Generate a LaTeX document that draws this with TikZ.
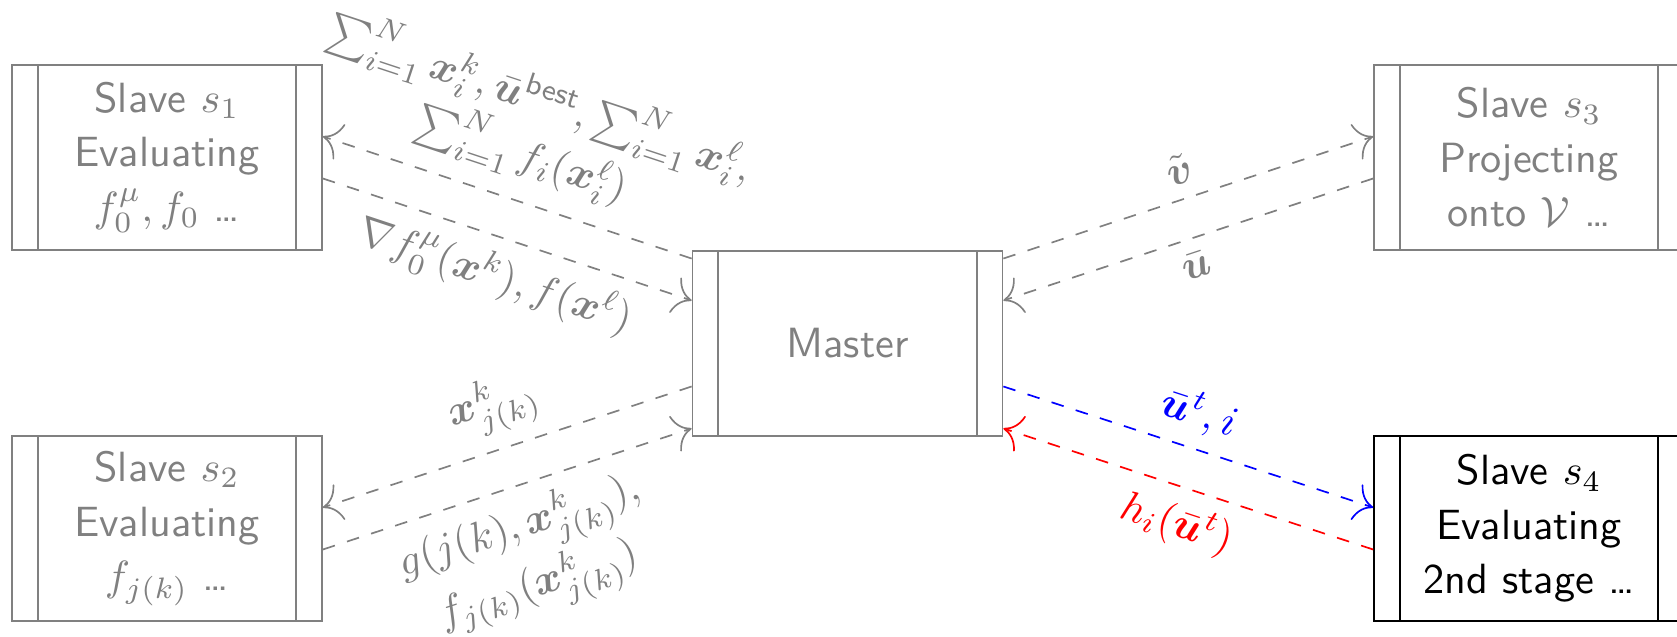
\documentclass[tikz,border=0pt]{standalone}
\usepackage{amsmath}
\usepackage{bm}
\usetikzlibrary{arrows.meta}
\tikzset{
  box/.style={draw=#1, text=#1, rectangle, minimum width=73.35pt, minimum height=43.77pt,
    inner sep=0pt, align=center, font={\sffamily\fontsize{10}{12.9}\selectfont},
    path picture={
      \draw[#1] ([xshift=6.08pt]path picture bounding box.north west) -- ([xshift=6.08pt]path picture bounding box.south west);
      \draw[#1] ([xshift=-6.08pt]path picture bounding box.north east) -- ([xshift=-6.08pt]path picture bounding box.south east);
    }},
  link/.style={draw=#1, dashed, -{To[scale=1.7]}},
  lab/.style={midway, sloped, align=center, text=#1, font=\fontsize{10}{12}\selectfont},
}
\begin{document}
\begin{tikzpicture}[x=0.2366pt, y=-0.2366pt]
\useasboundingbox (0,0) rectangle (1677,637);
\clip (0,0) rectangle (1677,637);

\node[box=gray] (s1) at (167,157.5) {Slave $s_1$\\Evaluating\\$f_0^\mu, f_0$ \dots};
\node[box=gray] (s2) at (167,528.5) {Slave $s_2$\\Evaluating\\$f_{j(k)}$ \dots};
\node[box=gray] (m) at (847.5,343.5) {Master};
\node[box=gray] (s3) at (1529,157.5) {Slave $s_3$\\Projecting\\onto $\mathcal{V}$ \dots};
\node[box=black] (s4) at (1529,528.5) {Slave $s_4$\\Evaluating\\2nd stage \dots};

% left upper
\draw[link=gray] ([yshift=20.1pt]m.west) -- node[lab=gray, above, yshift=1pt]
  {$\sum_{i=1}^N \bm{x}_i^k, \bar{\bm u}^{\mathsf{best}}, \sum_{i=1}^N \bm{x}_i^\ell,$\\ $\sum_{i=1}^N f_i(\bm{x}_i^\ell)$}
  ([yshift=4.97pt]s1.east);
\draw[link=gray] ([yshift=-4.97pt]s1.east) -- node[lab=gray, below]
  {$\nabla f_0^\mu(\bm{x}^k), f(\bm{x}^\ell)$}
  ([yshift=10.17pt]m.west);
% left lower
\draw[link=gray] ([yshift=-10.17pt]m.west) -- node[lab=gray, above]
  {$\bm{x}^k_{j(k)}$}
  ([yshift=4.97pt]s2.east);
\draw[link=gray] ([yshift=-4.97pt]s2.east) -- node[lab=gray, below]
  {$g(j(k), \bm{x}^k_{j(k)}),$\\ $f_{j(k)}(\bm{x}^k_{j(k)})$}
  ([yshift=-20.1pt]m.west);
% right upper
\draw[link=gray] ([yshift=20.1pt]m.east) -- node[lab=gray, above]
  {$\tilde{\bm v}$}
  ([yshift=4.97pt]s3.west);
\draw[link=gray] ([yshift=-4.97pt]s3.west) -- node[lab=gray, below]
  {$\bar{\bm u}$}
  ([yshift=10.17pt]m.east);
% right lower
\draw[link=blue] ([yshift=-10.17pt]m.east) -- node[lab=blue, above]
  {$\bar{\bm u}^t, i$}
  ([yshift=4.97pt]s4.west);
\draw[link=red] ([yshift=-4.97pt]s4.west) -- node[lab=red, below]
  {$h_i(\bar{\bm u}^t)$}
  ([yshift=-20.1pt]m.east);
\end{tikzpicture}
\end{document}
